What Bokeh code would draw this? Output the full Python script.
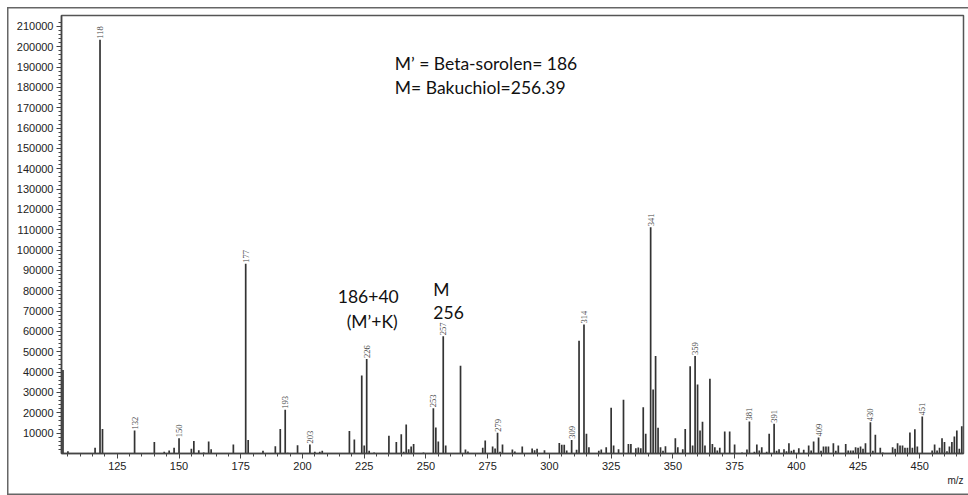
import math
from bokeh.plotting import figure
from bokeh.models import FixedTicker, Label, ColumnDataSource, Range1d, NumeralTickFormatter, Title
from bokeh.core.properties import value
from bokeh.embed import file_html
from bokeh.resources import INLINE

# m/z values and intensities
mz = [103, 105, 116, 118, 119, 132, 140, 144, 146, 148, 150, 155, 156, 158, 160, 162, 163,
      172, 177, 178, 184, 189, 191, 193, 194, 198, 203, 205, 207, 208, 219, 221, 224, 225,
      226, 227, 229, 235, 238, 240, 241, 242, 243, 244, 245, 249, 253, 254, 255, 257, 258,
      262, 264, 266, 267, 273, 274, 277, 278, 279, 280, 281, 285, 286, 289, 293, 294, 295,
      298, 304, 305, 306, 307, 309, 311, 312, 314, 315, 316, 320, 321, 323, 325, 326, 328,
      330, 332, 333, 335, 336, 337, 338, 339, 341, 342, 343, 344, 345, 346, 347, 351, 352,
      354, 355, 357, 358, 359, 360, 361, 362, 363, 365, 366, 367, 368, 369, 371, 373, 375,
      378, 380, 381, 383, 384, 385, 386, 388, 389, 391, 392, 393, 395, 396, 397, 398, 399,
      401, 403, 405, 406, 407, 409, 410, 411, 412, 413, 415, 416, 417, 420, 421, 422, 423,
      424, 425, 426, 427, 428, 430, 431, 432, 434, 435, 439, 440, 441, 442, 443, 444, 445,
      446, 447, 448, 449, 451, 455, 456, 457, 458, 459, 460, 461, 462, 463, 464, 465, 466, 467]
intensity = [41100, 1100, 2800, 203500, 12000, 11300, 5600, 800, 1500, 2800, 7500, 2300, 6200, 1600, 500, 5900, 2100,
             4400, 93300, 6700, 1300, 3600, 12000, 21500, 400, 4000, 4400, 800, 800, 1300, 11100, 6900, 38300, 3900,
             46500, 1300, 500, 8700, 5600, 9500, 800, 14300, 2100, 3400, 4700, 500, 22300, 12800, 5900, 57700, 3900,
             300, 43100, 2000, 1000, 2800, 6400, 3400, 2500, 10200, 800, 4400, 2000, 1000, 3400, 2500, 1600, 2300,
             1600, 5200, 4300, 4300, 1500, 6700, 1800, 55500, 63400, 9700, 3100, 1300, 2000, 3100, 22500, 3900, 2100,
             26400, 4700, 4700, 2600, 2900, 2600, 22800, 9700, 111300, 31500, 48000, 12700, 3100, 1300, 3600, 7500, 3100,
             2100, 12100, 42900, 3900, 48000, 33900, 11300, 15600, 3900, 36700, 4700, 3100, 1500, 2800, 10800, 10800, 4400,
             500, 2000, 15700, 800, 4400, 1500, 3100, 800, 9700, 14600, 1300, 2100, 2100, 1100, 5100, 1300, 1800,
             2600, 1800, 3900, 1500, 5900, 7900, 1300, 3400, 3400, 3400, 5100, 1300, 3900, 4700, 1500, 1500, 1500,
             3100, 2800, 3400, 2300, 5100, 15400, 1300, 9200, 2800, 500, 3100, 2300, 5100, 3900, 3900, 2800, 2800,
             10300, 2800, 11900, 3400, 18200, 1500, 4400, 1500, 2800, 7500, 5600, 1100, 3400, 5600, 8400, 11300, 2300, 13400]

labeled_peaks = [118, 132, 150, 177, 193, 203, 226, 253, 257, 279, 309, 314, 341, 359, 381, 391, 409, 430, 451]

x_ticks = [125, 150, 175, 200, 225, 250, 275, 300, 325, 350, 375, 400, 425, 450]
y_ticks = [10000 * k for k in range(1, 22)]

notes_top = ["M\u2019 = Beta-sorolen= 186", "M= Bakuchiol=256.39"]
notes_mk = ["186+40", "(M\u2019+K)"]
notes_m = ["M", "256"]
x_label = "m/z"

lookup = dict(zip(mz, intensity))
lab_x = labeled_peaks
lab_y = [lookup[m] for m in labeled_peaks]
lab_t = [str(m) for m in labeled_peaks]

p = figure(width=968, height=495, output_backend="svg", toolbar_location=None,
           x_range=Range1d(102.4, 467.7), y_range=Range1d(0, 215400),
           min_border_left=61, min_border_right=5, min_border_top=15, min_border_bottom=42)

p.xgrid.visible = False
p.ygrid.visible = False
p.outline_line_color = "#555555"
p.outline_line_width = 1.5
p.background_fill_color = "white"
p.border_fill_alpha = 0
p.styles = {"box-shadow": "inset 7px 7px 0 0 #ffffff, inset 8.5px 8.5px 0 0 #666666, inset 0 -1.5px 0 0 #666666"}

src = ColumnDataSource(dict(x=mz, y=intensity, y0=[0] * len(mz)))
p.segment(x0="x", y0="y0", x1="x", y1="y", source=src, line_color="#333333", line_width=1.7)

lsrc = ColumnDataSource(dict(x=lab_x, y=[v + 500 for v in lab_y], t=lab_t))
p.text(x="x", y="y", text="t", source=lsrc, angle=math.pi / 2, text_align="left",
       text_baseline="middle", text_font=value("Liberation Serif"), text_font_size="8.5px",
       text_color="#444444")

for ax in (p.xaxis[0], p.yaxis[0]):
    ax.axis_line_color = "#444444"
    ax.axis_line_width = 1.5
    ax.major_tick_line_color = "#444444"
    ax.minor_tick_line_color = "#444444"
    ax.major_tick_in = 0
    ax.major_tick_out = 5
    ax.minor_tick_in = 0
    ax.minor_tick_out = 3
    ax.major_label_text_font = "Liberation Sans"
    ax.major_label_text_font_size = "11px"
    ax.major_label_text_color = "#222222"

p.xaxis[0].ticker = FixedTicker(ticks=x_ticks, minor_ticks=list(range(105, 470, 5)))
p.yaxis[0].ticker = FixedTicker(ticks=y_ticks, minor_ticks=list(range(2000, 214000, 2000)))
p.yaxis[0].formatter = NumeralTickFormatter(format="0")
p.xaxis[0].major_label_standoff = 3
p.yaxis[0].major_label_standoff = 3

p.add_layout(Title(text=x_label, align="right", text_font="Liberation Sans", text_font_size="10px",
                   text_font_style="normal", text_color="#222222", standoff=0), "below")

big = dict(text_font="Lato", text_font_size="17.5px", text_color="#111111", text_baseline="middle")
p.add_layout(Label(x=237.4, y=191700, text=notes_top[0], **big))
p.add_layout(Label(x=237.4, y=179900, text=notes_top[1], **big))
p.add_layout(Label(x=214.3, y=77300, text=notes_mk[0], **big))
p.add_layout(Label(x=217.9, y=65000, text=notes_mk[1], **big))
p.add_layout(Label(x=253.0, y=80600, text=notes_m[0], **big))
p.add_layout(Label(x=253.0, y=69500, text=notes_m[1], **big))

open("out.html", "w").write(file_html(p, INLINE))
